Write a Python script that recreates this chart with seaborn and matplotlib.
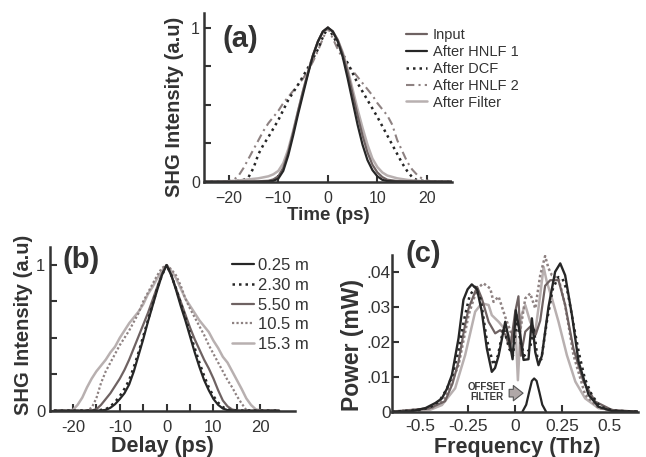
import numpy as np
import pandas as pd
import matplotlib
matplotlib.use("Agg")
import matplotlib.pyplot as plt
import seaborn as sns

# ---- panel (a): SHG intensity vs time ----
t_input = [-25, -18, -14, -12, -11, -10, -9, -8, -7, -6, -5, -4, -3, -2, -1, 0,
           1, 2, 3, 4, 5, 6, 7, 8, 9, 10, 11, 12, 14, 18, 25]
y_input = [0, 0.001, 0.003, 0.006, 0.015, 0.035, 0.09, 0.19, 0.32, 0.46, 0.59, 0.71, 0.82, 0.91, 0.975, 1.0,
           0.975, 0.92, 0.83, 0.71, 0.57, 0.43, 0.30, 0.19, 0.11, 0.06, 0.03, 0.013, 0.004, 0.001, 0]

t_hnlf1 = [-25, -14, -12, -11, -10, -9, -8, -7, -6, -5, -4, -3, -2, -1, 0,
           1, 2, 3, 4, 5, 6, 7, 8, 9, 10, 11, 12, 14, 25]
y_hnlf1 = [0, 0, 0.002, 0.006, 0.02, 0.07, 0.17, 0.30, 0.44, 0.57, 0.70, 0.82, 0.91, 0.975, 1.0,
           0.975, 0.91, 0.81, 0.67, 0.52, 0.37, 0.24, 0.14, 0.075, 0.035, 0.012, 0.004, 0.001, 0]

t_dcf = [-25, -20, -18, -17, -16, -15, -14, -13, -12, -10, -8, -6, -4, -2, -1, 0,
         1, 2, 4, 6, 8, 10, 12, 14, 15, 16, 17, 18, 20, 25]
y_dcf = [0, 0.002, 0.006, 0.012, 0.03, 0.09, 0.18, 0.24, 0.29, 0.40, 0.53, 0.63, 0.74, 0.86, 0.94, 1.0,
         0.95, 0.89, 0.77, 0.64, 0.53, 0.42, 0.30, 0.18, 0.12, 0.07, 0.03, 0.01, 0.002, 0]

t_hnlf2 = [-25, -21, -20, -19, -18, -17, -16, -15, -14, -13, -12, -11, -10, -9, -8, -7, -6, -5, -4, -3, -2, -1, 0,
           1, 2, 3, 4, 5, 6, 7, 8, 9, 10, 11, 12, 13, 14, 15, 16, 17, 18, 19, 20, 21, 25]
y_hnlf2 = [0, 0.001, 0.004, 0.012, 0.04, 0.09, 0.15, 0.21, 0.27, 0.33, 0.38, 0.42, 0.46, 0.51, 0.55, 0.59, 0.63, 0.67, 0.72, 0.78, 0.85, 0.93, 1.0,
           0.93, 0.86, 0.80, 0.76, 0.72, 0.68, 0.64, 0.60, 0.56, 0.51, 0.47, 0.43, 0.37, 0.27, 0.20, 0.13, 0.08, 0.045, 0.02, 0.008, 0.002, 0]

t_filter = [-25, -20, -18, -16, -14, -12, -11, -10, -9, -8, -7, -6, -5, -4, -3, -2, -1, 0,
            1, 2, 3, 4, 5, 6, 7, 8, 9, 10, 11, 12, 14, 16, 18, 20, 25]
y_filter = [0, 0.003, 0.008, 0.015, 0.022, 0.035, 0.048, 0.07, 0.12, 0.21, 0.33, 0.46, 0.59, 0.71, 0.82, 0.91, 0.975, 1.0,
            0.975, 0.92, 0.84, 0.73, 0.60, 0.47, 0.35, 0.24, 0.15, 0.095, 0.06, 0.04, 0.022, 0.012, 0.006, 0.002, 0]

# ---- panel (b): SHG intensity vs delay for fibre lengths ----
d_025 = [-24, -15, -13, -12, -11, -10, -9, -8, -7, -6, -5, -4, -3, -2, -1, 0,
         1, 2, 3, 4, 5, 6, 7, 8, 9, 10, 11, 12, 13, 15, 24]
s_025 = [0, 0, 0.005, 0.02, 0.045, 0.08, 0.12, 0.18, 0.27, 0.38, 0.49, 0.61, 0.72, 0.83, 0.93, 1.0,
         0.93, 0.83, 0.72, 0.62, 0.51, 0.40, 0.30, 0.21, 0.14, 0.08, 0.04, 0.015, 0.004, 0, 0]
s_230 = [0, 0.001, 0.01, 0.03, 0.06, 0.10, 0.15, 0.21, 0.30, 0.40, 0.51, 0.62, 0.73, 0.84, 0.93, 1.0,
         0.93, 0.84, 0.74, 0.64, 0.53, 0.43, 0.33, 0.24, 0.16, 0.10, 0.055, 0.025, 0.008, 0.001, 0]

d_550 = [-24, -17, -16, -15, -14, -13, -12, -11, -10, -9, -8, -7, -6, -5, -4, -3, -2, -1, 0,
         1, 2, 3, 4, 5, 6, 7, 8, 9, 10, 11, 12, 13, 14, 15, 16, 17, 24]
s_550 = [0, 0, 0.002, 0.01, 0.04, 0.08, 0.12, 0.17, 0.22, 0.28, 0.35, 0.43, 0.51, 0.59, 0.67, 0.76, 0.85, 0.94, 1.0,
         0.93, 0.84, 0.75, 0.66, 0.57, 0.49, 0.42, 0.35, 0.29, 0.22, 0.14, 0.07, 0.03, 0.008, 0.002, 0, 0, 0]

d_105 = [-24, -18, -17, -16, -15, -14, -13, -12, -11, -10, -9, -8, -7, -6, -5, -4, -3, -2, -1, 0,
         1, 2, 3, 4, 5, 6, 7, 8, 9, 10, 11, 12, 13, 14, 15, 16, 17, 18, 24]
s_105 = [0, 0, 0.003, 0.02, 0.085, 0.19, 0.27, 0.33, 0.39, 0.45, 0.50, 0.55, 0.61, 0.67, 0.75, 0.81, 0.87, 0.93, 0.98, 1.0,
         0.97, 0.93, 0.86, 0.77, 0.70, 0.64, 0.58, 0.52, 0.45, 0.39, 0.33, 0.27, 0.21, 0.16, 0.10, 0.05, 0.005, 0.001, 0]

d_153 = [-24, -21, -20, -19, -18, -17, -16, -15, -14, -13, -12, -11, -10, -9, -8, -7, -6, -5, -4, -3, -2, -1, 0,
         1, 2, 3, 4, 5, 6, 7, 8, 9, 10, 11, 12, 13, 14, 15, 16, 17, 18, 19, 20, 24]
s_153 = [0, 0, 0.005, 0.04, 0.09, 0.16, 0.22, 0.27, 0.31, 0.35, 0.40, 0.44, 0.50, 0.55, 0.60, 0.64, 0.68, 0.73, 0.80, 0.85, 0.91, 0.96, 1.0,
         0.96, 0.91, 0.84, 0.77, 0.72, 0.67, 0.62, 0.58, 0.54, 0.48, 0.43, 0.37, 0.33, 0.27, 0.21, 0.15, 0.085, 0.04, 0.01, 0.002, 0]

# ---- panel (c): spectra ----
f_025 = [-0.65, -0.55, -0.474, -0.42, -0.386, -0.36, -0.333, -0.298, -0.272, -0.25, -0.228, -0.20, -0.175, -0.148,
         -0.122, -0.105, -0.086, -0.051, -0.025, -0.012, 0.005, 0.028, 0.046, 0.072, 0.09, 0.108, 0.125, 0.143,
         0.178, 0.213, 0.24, 0.266, 0.302, 0.337, 0.39, 0.443, 0.513, 0.65]
p_025 = [0, 0.0001, 0.001, 0.0025, 0.0038, 0.0065, 0.0105, 0.021, 0.032, 0.035, 0.0364, 0.035, 0.0286, 0.018,
         0.0114, 0.0125, 0.016, 0.0257, 0.019, 0.015, 0.029, 0.022, 0.0148, 0.015, 0.0267, 0.017, 0.0133, 0.016,
         0.030, 0.040, 0.0424, 0.039, 0.0276, 0.0143, 0.0048, 0.0014, 0.0002, 0]

f_230 = [-0.65, -0.5, -0.45, -0.4, -0.36, -0.33, -0.3, -0.27, -0.24, -0.21, -0.18, -0.15, -0.113, -0.09, -0.06,
         -0.03, -0.01, 0.01, 0.03, 0.05, 0.08, 0.1, 0.12, 0.14, 0.17, 0.2, 0.23, 0.252, 0.28, 0.31, 0.34, 0.37,
         0.407, 0.45, 0.52, 0.65]
p_230 = [0, 0.0005, 0.0012, 0.003, 0.0065, 0.0105, 0.017, 0.026, 0.033, 0.0357, 0.032, 0.021, 0.0133, 0.016, 0.024,
         0.018, 0.016, 0.026, 0.02, 0.016, 0.018, 0.024, 0.015, 0.015, 0.026, 0.035, 0.0385, 0.038, 0.034, 0.025,
         0.0165, 0.0095, 0.0048, 0.0015, 0.0003, 0]

f_550 = [-0.65, -0.45, -0.369, -0.33, -0.298, -0.27, -0.245, -0.2, -0.175, -0.139, -0.104, -0.078, -0.05, -0.025,
         0.002, 0.019, 0.032, 0.055, 0.09, 0.11, 0.134, 0.16, 0.187, 0.231, 0.266, 0.31, 0.363, 0.425, 0.513, 0.65]
p_550 = [0, 0.001, 0.003, 0.008, 0.0143, 0.023, 0.0295, 0.0357, 0.0324, 0.0257, 0.0224, 0.0233, 0.022, 0.018,
         0.0286, 0.0330, 0.016, 0.0229, 0.0248, 0.022, 0.026, 0.036, 0.0376, 0.0376, 0.0305, 0.018, 0.0086,
         0.0029, 0.0005, 0]

f_105 = [-0.65, -0.44, -0.37, -0.298, -0.245, -0.2, -0.166, -0.13, -0.113, -0.086, -0.051, -0.016, 0.011, 0.028,
         0.055, 0.081, 0.108, 0.134, 0.16, 0.178, 0.196, 0.231, 0.266, 0.31, 0.372, 0.443, 0.55, 0.65]
p_105 = [0, 0.001, 0.0038, 0.0133, 0.0276, 0.0352, 0.0367, 0.0352, 0.0314, 0.0329, 0.0271, 0.0219, 0.0276, 0.0229,
         0.0324, 0.0338, 0.0295, 0.039, 0.0445, 0.041, 0.039, 0.0381, 0.0305, 0.0162, 0.0048, 0.001, 0.0002, 0]

f_153 = [-0.65, -0.45, -0.386, -0.316, -0.263, -0.21, -0.175, -0.139, -0.122, -0.086, -0.042, -0.016, 0.002,
         0.016, 0.034, 0.055, 0.081, 0.108, 0.134, 0.152, 0.169, 0.196, 0.231, 0.275, 0.32, 0.372, 0.443, 0.55, 0.65]
p_153 = [0, 0.0005, 0.0019, 0.0067, 0.0162, 0.0286, 0.031, 0.0305, 0.0276, 0.0257, 0.0229, 0.02, 0.0257,
         0.009, 0.0276, 0.0305, 0.0257, 0.0229, 0.0333, 0.0414, 0.0371, 0.0324, 0.0257, 0.0162, 0.0086, 0.0038,
         0.001, 0.0002, 0]

f_offset = [0.04, 0.06, 0.075, 0.09, 0.102, 0.115, 0.13, 0.145, 0.165]
p_offset = [0, 0.002, 0.0055, 0.0088, 0.0095, 0.0088, 0.0055, 0.002, 0]

labels_a = ["Input", "After HNLF 1", "After DCF", "After HNLF 2", "After Filter"]
labels_b = ["0.25 m", "2.30 m", "5.50 m", "10.5 m", "15.3 m"]

sns.set_style("ticks")
plt.rcParams['font.family'] = ['Liberation Sans', 'DejaVu Sans']
txt = '#333333'
plt.rcParams['text.color'] = txt
plt.rcParams['xtick.color'] = txt
plt.rcParams['ytick.color'] = txt

black = '#262626'
dgray = '#6e6262'
mgray = '#8e8282'
lgray = '#b8b0b0'

W, H = 646, 457
fig = plt.figure(figsize=(W / 100, H / 100), dpi=100)


def px_axes(l, t, r, b):
    return fig.add_axes([l / W, 1 - b / H, (r - l) / W, (b - t) / H])


def style(ax, fs, xpad):
    for s in ['top', 'right']:
        ax.spines[s].set_visible(False)
    for s in ['left', 'bottom']:
        ax.spines[s].set_linewidth(1.8)
        ax.spines[s].set_color('#333333')
    ax.tick_params(direction='in', length=5, width=1.5, color='#333333', labelsize=fs, pad=3)
    ax.tick_params(axis='x', pad=xpad)
    ax.set_xlabel('')
    ax.set_ylabel('')


def line(ax, x, y, color, ls='-', lw=1.6, label=None):
    sns.lineplot(x=x, y=y, ax=ax, color=color, linestyle=ls, linewidth=lw,
                 estimator=None, sort=False, label=label, legend=False)


# (a)
ax1 = px_axes(204, 12.7, 451.7, 181.7)
line(ax1, t_hnlf2, y_hnlf2, mgray, (0, (4, 2, 1, 2)), 1.5, labels_a[3])
line(ax1, t_dcf, y_dcf, black, (0, (1, 1.6)), 1.8, labels_a[2])
line(ax1, t_filter, y_filter, lgray, '-', 1.8, labels_a[4])
line(ax1, t_input, y_input, dgray, '-', 1.6, labels_a[0])
line(ax1, t_hnlf1, y_hnlf1, black, '-', 1.6, labels_a[1])
ax1.set_xlim(-25, 25)
ax1.set_ylim(0, 1.097)
ax1.set_xticks([-20, -10, 0, 10, 20])
ax1.set_yticks([0, 0.25, 0.5, 0.75, 1])
ax1.set_yticklabels(['0', '', '', '', '1'])
style(ax1, 11.5, 6.5)
h, l = ax1.get_legend_handles_labels()
order = [l.index(k) for k in labels_a]
ax1.legend([h[i] for i in order], labels_a, loc='upper left', bbox_to_anchor=(0.815, 0.91),
           frameon=False, fontsize=10.5, handlelength=1.45, handletextpad=0.4, labelspacing=0.2,
           borderpad=0, borderaxespad=0)

# (b)
ax2 = px_axes(49.5, 246.7, 295, 410.7)
line(ax2, d_153, s_153, lgray, '-', 1.8, labels_b[4])
line(ax2, d_105, s_105, mgray, (0, (1, 1)), 1.6, labels_b[3])
line(ax2, d_550, s_550, dgray, '-', 1.6, labels_b[2])
line(ax2, d_025, s_230, black, (0, (1, 1.6)), 1.8, labels_b[1])
line(ax2, d_025, s_025, black, '-', 1.6, labels_b[0])
ax2.set_xlim(-25, 27.4)
ax2.set_ylim(0, 1.126)
ax2.set_xticks(np.arange(-20, 21, 5))
ax2.set_xticklabels(['-20', '', '-10', '', '0', '', '10', '', '20'])
ax2.set_yticks([0, 0.25, 0.5, 0.75, 1])
ax2.set_yticklabels(['0', '', '', '', '1'])
style(ax2, 12, 7)
h, l = ax2.get_legend_handles_labels()
order = [l.index(k) for k in labels_b]
ax2.legend([h[i] for i in order], labels_b, loc='upper left', bbox_to_anchor=(0.745, 0.93),
           frameon=False, fontsize=12, handlelength=1.3, handletextpad=0.25, labelspacing=0.28,
           borderpad=0, borderaxespad=0)

# (c)
ax3 = px_axes(392, 255, 638.3, 411.7)
line(ax3, f_153, p_153, lgray, '-', 1.8)
line(ax3, f_105, p_105, mgray, (0, (1, 1)), 1.8)
line(ax3, f_550, p_550, dgray, '-', 1.6)
line(ax3, f_230, p_230, black, (0, (1, 1.6)), 1.8)
line(ax3, f_025, p_025, black, '-', 1.7)
line(ax3, f_offset, p_offset, black, '-', 1.6)
ax3.set_xlim(-0.65, 0.653)
ax3.set_ylim(0, 0.0448)
ax3.set_xticks([-0.5, -0.25, 0, 0.25, 0.5])
ax3.set_xticklabels(['-0.5', '-0.25', '0', '0.25', '0.5'])
ax3.set_yticks([0, 0.01, 0.02, 0.03, 0.04])
ax3.set_yticklabels(['0', '.01', '.02', '.03', '.04'])
style(ax3, 12.5, 5)
ax3.tick_params(axis='y', pad=1)
for i in [0, 4]:
    ax3.xaxis.get_major_ticks()[i].tick1line.set_visible(False)
ax3.text(-0.148, 0.0056, 'OFFSET\nFILTER', fontsize=7, fontweight='bold', ha='center', va='center',
         color='#3a3a3a', linespacing=1.0)
ax3.annotate('', xy=(0.058, 0.0053), xytext=(-0.045, 0.0053),
             arrowprops=dict(arrowstyle='simple,head_length=0.7,head_width=1.1,tail_width=0.55',
                             fc='#b0a8a8', ec='#555555', lw=0.8))

# axis labels and panel letters
fig.text(175 / W, 1 - 107 / H, 'SHG Intensity (a.u)', rotation=90, fontsize=14.5, fontweight='bold',
         ha='center', va='center')
fig.text(328 / W, 1 - 220 / H, 'Time (ps)', fontsize=13.5, fontweight='bold', ha='center', va='baseline')
fig.text(24 / W, 1 - 325 / H, 'SHG Intensity (a.u)', rotation=90, fontsize=14.5, fontweight='bold',
         ha='center', va='center')
fig.text(162 / W, 1 - 452 / H, 'Delay (ps)', fontsize=15.5, fontweight='bold', ha='center', va='baseline')
fig.text(353 / W, 1 - 345 / H, 'Power (mW)', rotation=90, fontsize=16.5, fontweight='bold',
         ha='center', va='center')
fig.text(517 / W, 1 - 453 / H, 'Frequency (Thz)', fontsize=15.5, fontweight='bold', ha='center', va='baseline')
fig.text(240.5 / W, 1 - 39 / H, '(a)', fontsize=21, fontweight='bold', ha='center', va='center')
fig.text(80.7 / W, 1 - 260 / H, '(b)', fontsize=21, fontweight='bold', ha='center', va='center')
fig.text(423 / W, 1 - 254 / H, '(c)', fontsize=21, fontweight='bold', ha='center', va='center')

fig.savefig('out.png', dpi=100)
